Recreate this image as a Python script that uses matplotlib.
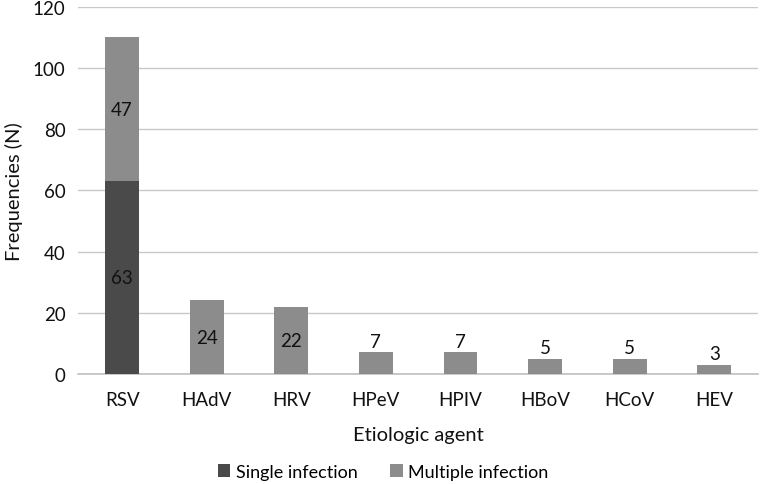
import numpy as np
import matplotlib.pyplot as plt

plt.rcParams['font.family'] = ['Lato', 'DejaVu Sans']

agentes = ['RSV', 'HAdV', 'HRV', 'HPeV', 'HPIV', 'HBoV', 'HCoV', 'HEV']
single = [63, 0, 0, 0, 0, 0, 0, 0]
multiple = [47, 24, 22, 7, 7, 5, 5, 3]

c_single = '#4a4a4a'
c_multi = '#8c8c8c'

fig = plt.figure(figsize=(7.66, 4.85), dpi=100)
ax = fig.add_axes([0.102, 0.227, 0.888, 0.757])

x = np.arange(len(agentes))
b1 = ax.bar(x, single, 0.4, color=c_single, label='Single infection', zorder=3)
b2 = ax.bar(x, multiple, 0.4, bottom=single, color=c_multi, label='Multiple infection', zorder=3)

# etiquetas
for i in range(len(agentes)):
    if single[i] > 0:
        ax.text(x[i], single[i] / 2, str(single[i]), ha='center', va='center', fontsize=13.5, color='#111111', zorder=4)
    m = multiple[i]
    if m >= 10:
        ax.text(x[i], single[i] + m / 2, str(m), ha='center', va='center', fontsize=13.5, color='#111111', zorder=4)
    else:
        ax.text(x[i], single[i] + m + 0.8, str(m), ha='center', va='bottom', fontsize=13.5, color='#111111', zorder=4)

ax.set_xlim(-0.52, len(agentes) - 0.48)
ax.set_ylim(0, 120)
ax.set_yticks(np.arange(0, 121, 20))
ax.grid(axis='y', color='#c8c8c8', linewidth=1, zorder=0)
for s in ['top', 'right', 'left']:
    ax.spines[s].set_visible(False)
ax.spines['bottom'].set_color('#c0c0c0')
ax.spines['bottom'].set_linewidth(1.2)
ax.tick_params(axis='both', length=0, labelsize=13.5, colors='#111111')
ax.tick_params(axis='x', pad=12)
ax.tick_params(axis='y', pad=9)
ax.set_xticks(x)
ax.set_xticklabels(agentes)
ax.set_xlabel('Etiologic agent', fontsize=14.5, labelpad=13, color='#111111')
ax.set_ylabel('Frequencies (N)', fontsize=14.5, labelpad=7, color='#111111')

fig.legend(handles=[b1, b2], loc='lower center', bbox_to_anchor=(0.5, -0.025), ncol=2, frameon=False,
           fontsize=13, handlelength=0.7, handleheight=0.7, handletextpad=0.3, columnspacing=1.8)

plt.savefig('out.png', dpi=100)
